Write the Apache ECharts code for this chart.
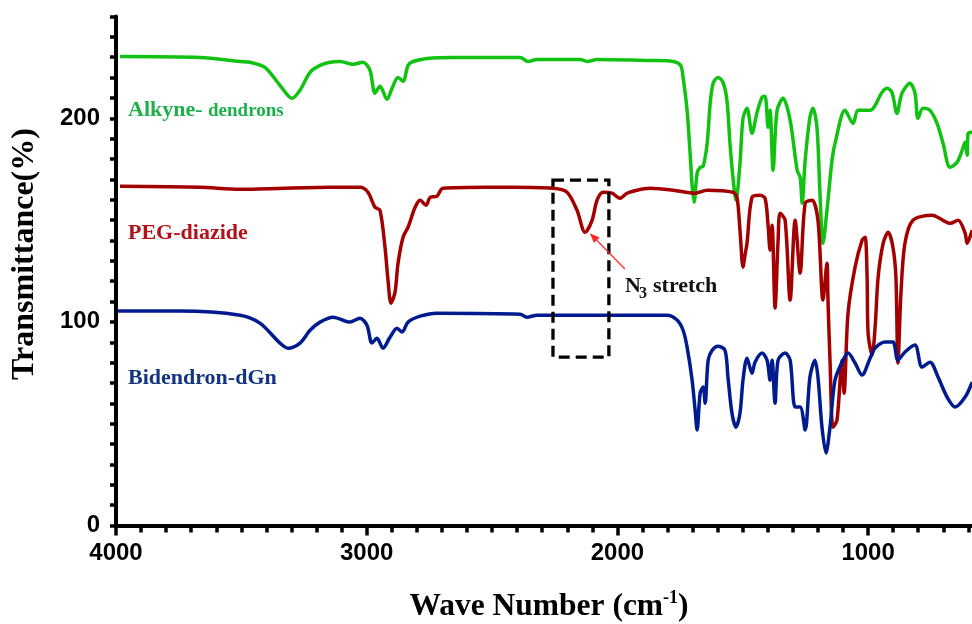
<!DOCTYPE html>
<html>
<head>
<meta charset="utf-8">
<script src="https://cdn.jsdelivr.net/npm/echarts@6/dist/echarts.min.js"></script>
<style>
  html, body { margin: 0; padding: 0; background: #ffffff; }
  #chart { width: 972px; height: 624px; }
</style>
</head>
<body>
<div id="chart"></div>
<script>
// FTIR spectra: wavenumber (cm-1) and transmittance (%, stacked offsets)
const seriesNames = ['Alkyne- dendrons', 'PEG-diazide', 'Bidendron-dGn'];

const alkyneWn = [3984,3665,3505,3465,3406,3346,3298,3266,3226,3186,3146,3106,3055,3015,2987,2967,2947,2919,2899,2875,2855,2835,2815,2759,2656,2388,2357,2321,2149,2121,2081,1870,1778,1748,1738,1722,1710,1702,1694,1682,1670,1658,1642,1630,1618,1599,1579,1563,1551,1539,1527,1511,1499,1483,1463,1443,1423,1411,1399,1391,1379,1363,1339,1311,1283,1271,1263,1251,1232,1220,1204,1192,1180,1164,1144,1132,1092,1060,1040,992,944,924,905,885,865,833,813,801,781,753,725,701,673,645,625,613,605,601,585];
const alkyneT = [230.4,229.9,227.9,227.5,225.0,216.2,209.8,213.8,222.6,226.0,227.5,227.9,226.5,227.5,223.6,212.3,215.7,209.3,214.7,220.1,218.2,226.0,227.9,229.4,229.9,229.9,227.9,228.9,228.9,227.9,228.9,228.4,227.9,226.0,220.1,203.9,182.8,167.1,158.8,173.0,175.9,176.4,187.7,207.3,217.2,220.1,217.7,208.8,187.7,171.0,159.8,177.9,200.0,204.9,192.6,202.9,210.3,210.8,195.6,203.9,174.5,203.9,209.8,199.0,174.5,171.0,158.3,179.4,200.5,204.9,195.6,163.2,138.6,154.8,179.4,187.7,203.9,197.5,203.9,203.9,212.8,214.7,212.8,202.4,212.3,217.2,212.3,200.0,204.9,203.9,197.5,187.7,175.9,178.4,184.2,188.2,181.8,192.6,193.1];

const pegWn = [3984,3665,3505,3146,3027,2995,2967,2947,2927,2915,2903,2887,2875,2855,2835,2807,2787,2763,2747,2720,2696,2520,2416,2257,2201,2161,2129,2101,2081,2057,2021,1990,1962,1922,1870,1778,1690,1642,1539,1523,1511,1499,1491,1483,1463,1431,1411,1399,1391,1383,1371,1359,1351,1331,1311,1291,1271,1251,1224,1200,1180,1164,1160,1152,1140,1124,1104,1096,1080,1052,1024,1012,1004,1000,984,972,960,940,920,901,889,881,869,853,821,745,701,673,641,613,605,585];
const pegT = [166.6,166.1,165.1,166.1,166.1,163.7,156.3,154.8,136.7,120.5,109.2,114.6,128.8,141.6,146.5,156.3,159.8,157.3,161.2,161.7,165.6,166.1,166.1,165.6,163.7,154.8,144.0,149.9,159.8,163.7,163.2,160.7,163.2,164.7,165.6,164.7,163.2,164.7,163.7,161.2,145.0,126.9,132.8,138.6,161.2,162.2,160.7,147.5,135.2,147.5,106.8,140.1,153.4,149.9,110.7,149.9,123.9,158.3,159.8,149.9,110.7,128.8,110.7,81.2,48.3,51.8,81.2,65.0,104.3,126.9,140.1,141.6,122.0,94.5,83.7,97.4,122.0,138.6,144.0,136.7,122.0,79.8,114.1,138.6,149.9,152.4,149.9,148.4,149.9,143.6,138.6,145.0];

const bidWn = [3992,3745,3505,3426,3346,3314,3266,3226,3186,3134,3067,3027,2999,2979,2959,2935,2907,2879,2859,2835,2787,2720,2388,2361,2321,1870,1802,1762,1738,1722,1702,1690,1682,1670,1658,1650,1638,1622,1599,1571,1559,1543,1527,1511,1499,1483,1463,1451,1423,1403,1391,1383,1371,1359,1331,1311,1291,1271,1251,1232,1212,1200,1184,1168,1152,1132,1100,1080,1052,1024,992,972,932,901,881,853,813,785,753,721,685,653,613,585];
const bidT = [105.3,105.3,103.3,99.4,89.6,87.1,89.6,95.9,99.9,102.3,99.9,101.8,98.4,89.6,92.0,87.1,92.5,96.9,95.0,99.9,102.8,104.3,103.8,102.3,103.3,103.3,103.3,100.9,95.9,87.6,71.4,56.7,46.9,65.0,68.0,60.1,81.2,86.1,88.1,86.1,72.9,55.2,48.3,55.2,71.4,82.2,74.8,80.2,84.7,81.2,71.4,81.2,60.1,81.2,84.7,81.2,58.2,58.2,46.9,72.9,81.2,72.9,48.3,35.6,48.3,71.4,81.2,84.7,79.8,73.9,82.2,87.1,90.1,90.1,81.2,85.2,88.6,77.8,80.2,72.9,63.1,58.2,63.1,70.4];

const xTickLabels = [4000, 3000, 2000, 1000];
const yTickLabels = [0, 100, 200];

const zip = (xs, ys) => xs.map((x, i) => [x, ys[i]]);

const lineColors = ['#12c212', '#a30000', '#001b8e'];
const labelColors = ['#1db14b', '#b0121a', '#13347e'];

const SANS = '"Liberation Sans", Arial, Helvetica, sans-serif';
const SERIF = '"Liberation Serif", "Times New Roman", Times, serif';
const tickFont = { fontFamily: SANS, fontWeight: 'bold', fontSize: 24, color: '#000' };

const chart = echarts.init(document.getElementById('chart'), null, { renderer: 'canvas' });

const gridBase = { left: 116, bottom: 98.5, right: -146.8, containLabel: false, outerBoundsMode: 'none' };

const option = {
  animation: false,
  backgroundColor: '#ffffff',
  grid: [
    Object.assign({ top: 16.5 }, gridBase),
    Object.assign({ top: 118 }, gridBase)   // second grid carries the 0/100/200 major ticks
  ],
  xAxis: [
    {
      gridIndex: 0, type: 'value', inverse: true, min: 0, max: 4000, interval: 1000,
      axisLine: { show: true, onZero: false, lineStyle: { color: '#000', width: 4 } },
      axisTick: { show: true, length: 10, lineStyle: { color: '#000', width: 3.5 } },
      minorTick: { show: true, splitNumber: 10, length: 7, lineStyle: { color: '#000', width: 3.5 } },
      splitLine: { show: false },
      minorSplitLine: { show: false },
      axisLabel: Object.assign({ margin: 16, formatter: v => xTickLabels.includes(v) ? String(v) : '' }, tickFont)
    },
    { gridIndex: 1, type: 'value', inverse: true, min: 0, max: 4000, show: false }
  ],
  yAxis: [
    {
      gridIndex: 0, type: 'value', min: 0, max: 250, interval: 10,
      axisLine: { show: true, onZero: false, lineStyle: { color: '#000', width: 4 } },
      axisTick: { show: true, length: 6, lineStyle: { color: '#000', width: 3.5 } },
      axisLabel: { show: false },
      splitLine: { show: false }
    },
    {
      gridIndex: 1, type: 'value', min: 0, max: 200, interval: 100,
      axisLine: { show: false },
      axisTick: { show: true, length: 11, lineStyle: { color: '#000', width: 3.5 } },
      axisLabel: Object.assign({ margin: 16, formatter: v => yTickLabels.includes(v) ? String(v) : '' }, tickFont),
      splitLine: { show: false }
    }
  ],
  series: [
    [alkyneWn, alkyneT],
    [pegWn, pegT],
    [bidWn, bidT]
  ].map((pair, i) => ({
    name: seriesNames[i],
    type: 'line',
    xAxisIndex: 0,
    yAxisIndex: 0,
    data: zip(pair[0], pair[1]),
    showSymbol: false,
    smooth: 0.3,
    lineStyle: { color: lineColors[i], width: 3.5 },
    itemStyle: { color: lineColors[i] },
    z: 3 + i
  }))
};

chart.setOption(option);

// annotations placed in data coordinates
const toPx = (wn, t) => chart.convertToPixel({ xAxisIndex: 0, yAxisIndex: 0 }, [wn, t]);

const boxA = toPx(2257, 169.6);
const boxB = toPx(2034, 82.7);
const arrowTip = toPx(2110, 143.6);
const arrowTail = toPx(1970, 126.0);

const ang = Math.atan2(arrowTip[1] - arrowTail[1], arrowTip[0] - arrowTail[0]);
const headLen = 10, headHalf = 4;
const headBase = [arrowTip[0] - headLen * Math.cos(ang), arrowTip[1] - headLen * Math.sin(ang)];
const nx = -Math.sin(ang), ny = Math.cos(ang);

const text = (x, y, str, size, color, extra) => Object.assign({
  type: 'text', x: x, y: y, z: 20,
  style: Object.assign({
    text: str, fill: color, fontFamily: SERIF, fontWeight: 'bold', fontSize: size,
    align: 'left', verticalAlign: 'middle'
  }, extra || {})
});

chart.setOption({
  graphic: [
    {
      type: 'rect', z: 10,
      shape: { x: boxA[0], y: boxA[1], width: boxB[0] - boxA[0], height: boxB[1] - boxA[1] },
      style: { fill: 'none', stroke: '#000', lineWidth: 3.3, lineDash: [11, 6] }
    },
    {
      type: 'line', z: 11,
      shape: { x1: arrowTail[0], y1: arrowTail[1], x2: headBase[0], y2: headBase[1] },
      style: { stroke: '#ff2a2a', lineWidth: 1.2 }
    },
    {
      type: 'polygon', z: 11,
      shape: { points: [arrowTip, [headBase[0] + nx * headHalf, headBase[1] + ny * headHalf], [headBase[0] - nx * headHalf, headBase[1] - ny * headHalf]] },
      style: { fill: '#ff2a2a' }
    },
    text(625, 286, 'N', 22, '#111'),
    text(639, 294, '3', 16, '#111'),
    text(653, 286, 'stretch', 22, '#111'),
    text(128, 110, 'Alkyne-', 22, labelColors[0]),
    text(208, 111, 'dendrons', 19, labelColors[0]),
    text(128, 233, seriesNames[1], 22, labelColors[1]),
    text(128, 378, seriesNames[2], 22, labelColors[2]),
    {
      type: 'text', x: 549, y: 607, z: 20,
      style: {
        text: '{t|Wave Number (cm}{s|-1}{t|)}',
        align: 'center', verticalAlign: 'middle',
        rich: {
          t: { fontFamily: SERIF, fontWeight: 'bold', fontSize: 31.5, lineHeight: 36, fill: '#000', color: '#000' },
          s: { fontFamily: SERIF, fontWeight: 'bold', fontSize: 18, lineHeight: 18, verticalAlign: 'top', fill: '#000', color: '#000' }
        }
      }
    },
    {
      type: 'text', x: 25, y: 254, z: 20, rotation: Math.PI / 2,
      style: {
        text: 'Transmittance(%)', fill: '#000', fontFamily: SERIF, fontWeight: 'bold', fontSize: 32,
        align: 'center', verticalAlign: 'middle'
      }
    }
  ]
});
</script>
</body>
</html>
